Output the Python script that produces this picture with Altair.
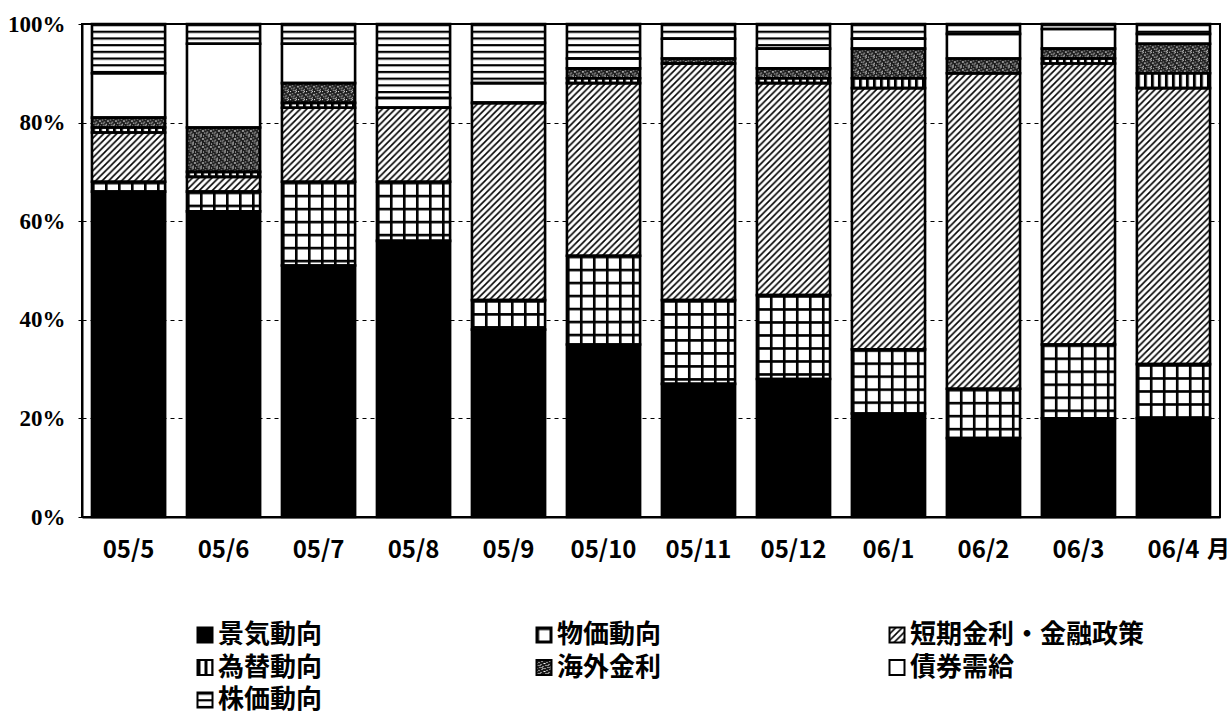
import base64

import altair as alt
import pandas as pd

# Survey months and answer categories (bottom to top in each bar)
months = ["05/5", "05/6", "05/7", "05/8", "05/9", "05/10",
          "05/11", "05/12", "06/1", "06/2", "06/3", "06/4"]
categories = ["景気動向", "物価動向", "短期金利・金融政策", "為替動向",
              "海外金利", "債券需給", "株価動向"]

# Share of answers per month (%)
business = [66, 62, 51, 56, 38, 35, 27, 28, 21, 16, 20, 20]
prices = [2, 4, 17, 12, 6, 18, 17, 17, 13, 10, 15, 11]
short_rates = [10, 3, 15, 15, 40, 35, 48, 43, 53, 64, 57, 56]
fx = [1, 1, 1, 0, 0, 1, 0, 1, 2, 0, 1, 3]
overseas = [2, 9, 4, 0, 0, 2, 1, 2, 6, 3, 2, 6]
bond_supply = [9, 17, 8, 2, 4, 2, 4, 4, 2, 5, 4, 2]
stocks = [10, 4, 4, 15, 12, 7, 3, 5, 3, 2, 1, 2]

series = [business, prices, short_rates, fx, overseas, bond_supply, stocks]

rows = []
for order, (cat, vals) in enumerate(zip(categories, series)):
    for m, v in zip(months, vals):
        rows.append({"month": m, "cat": cat, "order": order, "value": v})
df = pd.DataFrame(rows)

FONT = "Noto Sans CJK JP"
NUM_FONT = "Liberation Sans Narrow"


def tile_uri(w, h, body, bg="#ffffff"):
    """SVG image filled with a repeating tile, drawn at pixel scale."""
    svg = (
        '<svg xmlns="http://www.w3.org/2000/svg" width="100%" height="100%">'
        f'<defs><pattern id="p" patternUnits="userSpaceOnUse" width="{w}" height="{h}">'
        f'<rect width="{w}" height="{h}" fill="{bg}"/>{body}</pattern></defs>'
        '<rect width="100%" height="100%" fill="url(#p)"/></svg>'
    )
    return "data:image/svg+xml;base64," + base64.b64encode(svg.encode("utf-8")).decode()


# irregular light specks on a dark ground
speckle_dots = "".join(
    f'<rect x="{x}" y="{y}" width="1" height="1" fill="#fff"/>'
    for x, y in [(0, 0), (5, 1), (2, 2), (7, 3), (4, 4), (1, 5),
                 (6, 6), (3, 7), (0, 3), (6, 0), (3, 5), (5, 7)]
)

fills = {
    "物価動向": tile_uri(13, 13, '<rect width="13" height="2.6" fill="#000"/>'
                              '<rect width="2.6" height="13" fill="#000"/>'),
    "短期金利・金融政策": tile_uri(6.5, 6.5, '<path d="M-1,1L1,-1M0,6.5L6.5,0M5.5,7.5L7.5,5.5" '
                                        'stroke="#000" stroke-width="1.6"/>'),
    "為替動向": tile_uri(7, 7, '<rect width="3" height="7" fill="#000"/>'),
    "海外金利": tile_uri(8, 8, speckle_dots, bg="#1a1a1a"),
    "株価動向": tile_uri(7, 6.7, '<rect width="7" height="2.2" fill="#000"/>'),
}

PLOT_W, PLOT_H = 1138, 493

x_enc = alt.X(
    "month:N", sort=months,
    scale=alt.Scale(paddingInner=0.23, paddingOuter=0.105),
    axis=alt.Axis(
        title="月", labelAngle=0, labelFont=FONT, labelFontSize=24,
        labelFontWeight="bold", labelColor="#000", labelPadding=21,
        ticks=False, tickSize=0, domainColor="#000", domainWidth=2,
        titleFont=FONT, titleFontSize=23, titleFontWeight="bold",
        titleColor="#000", titleX=1136, titleY=21, titleAlign="center",
        titleBaseline="top",
    ),
)
y_enc = alt.Y(
    "y0:Q",
    scale=alt.Scale(domain=[0, 100], nice=False),
    axis=alt.Axis(
        title=None, values=[0, 20, 40, 60, 80, 100],
        labelExpr="datum.value + '%'", labelFont=NUM_FONT, labelFontSize=23,
        labelFontWeight="bold", labelColor="#000", labelPadding=13,
        tickSize=4, tickColor="#000", domainColor="#000", domainWidth=2,
        grid=True, gridColor="#000", gridDash=[4, 4], gridWidth=1.2,
    ),
)

base = alt.Chart(df).transform_stack(
    stack="value", groupby=["month"],
    sort=[alt.SortField("order", "ascending")], as_=["y0", "y1"],
)

solid = base.mark_bar().encode(
    x=x_enc, y=y_enc, y2="y1:Q",
    color=alt.Color(
        "cat:N", legend=None,
        scale=alt.Scale(domain=categories,
                        range=["#000", "#fff", "#fff", "#fff", "#fff", "#fff", "#fff"]),
    ),
)

patterned = [
    base.transform_filter(alt.datum.cat == cat)
    .mark_image(aspect=False)
    .encode(x=x_enc, y=y_enc, y2="y1:Q", url=alt.value(uri))
    for cat, uri in fills.items()
]

outline = base.mark_bar(fill="transparent", stroke="#000", strokeWidth=2.6).encode(
    x=x_enc, y=y_enc, y2="y1:Q"
)

main = alt.layer(solid, *patterned, outline).properties(
    width=PLOT_W, height=PLOT_H,
    view=alt.ViewBackground(stroke="#000", strokeWidth=2),
)

# Key below the plot: three columns, three rows
legend_df = pd.DataFrame({
    "cat": categories,
    "col": [0, 1, 2, 0, 1, 2, 0],
    "row": [0, 0, 0, 1, 1, 1, 2],
})

lx = alt.X("col:Q", axis=None,
           scale=alt.Scale(domain=[0, 1, 2], range=[123, 462, 815]))
ly = alt.Y("row:Q", axis=None,
           scale=alt.Scale(domain=[0, 2], range=[71, 136]))

key_base = alt.Chart(legend_df)
key_solid = key_base.transform_filter(alt.datum.cat == "景気動向").mark_square(
    size=256, filled=True, color="#000", opacity=1
).encode(x=lx, y=ly)
key_images = [
    key_base.transform_filter(alt.datum.cat == cat)
    .mark_image(width=15, height=15, aspect=False)
    .encode(x=lx, y=ly, url=alt.value(uri))
    for cat, uri in fills.items()
]
key_box = key_base.mark_square(
    size=225, filled=False, color="#000", strokeWidth=2, opacity=1
).encode(x=lx, y=ly)
key_text = key_base.mark_text(
    align="left", baseline="middle", dx=13, font=FONT, fontSize=26,
    fontWeight="bold", color="#000",
).encode(x=lx, y=ly, text="cat:N")

key = alt.layer(key_solid, *key_images, key_box, key_text).properties(
    width=PLOT_W, height=149,
    view=alt.ViewBackground(stroke="transparent"),
)

chart = alt.vconcat(main, key, spacing=0).properties(
    padding={"left": 6, "top": 12, "right": 0, "bottom": 0},
).configure_view(stroke="transparent").configure(background="#ffffff")

chart.save("out.html", embed_options={"renderer": "svg", "actions": False})
